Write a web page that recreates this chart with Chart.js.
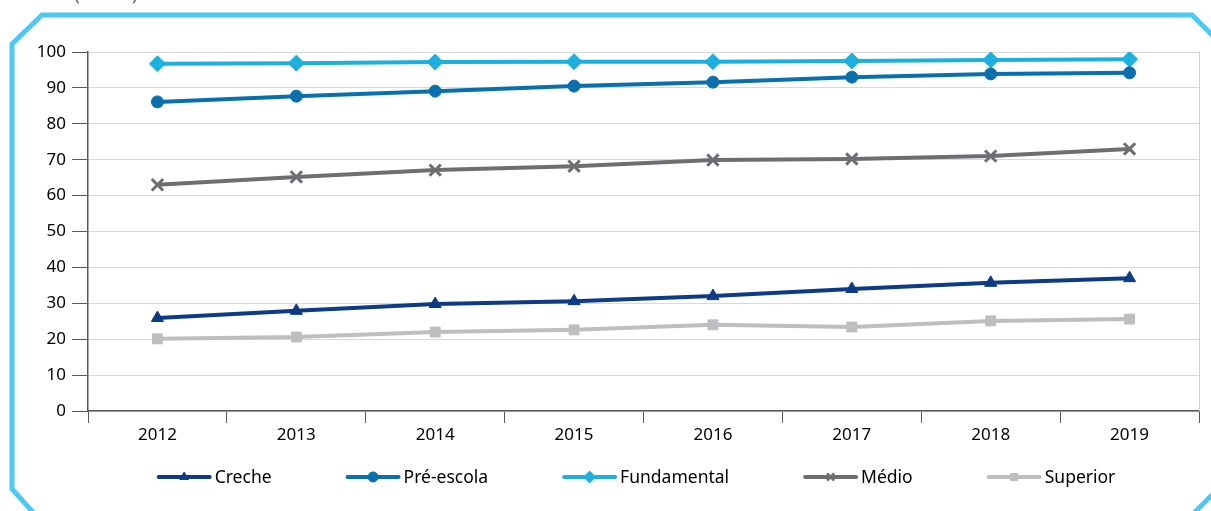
<!DOCTYPE html>
<html>
<head>
<meta charset="utf-8">
<script src="https://cdn.jsdelivr.net/npm/chart.js@4"></script>
<style>
  html, body { margin: 0; padding: 0; background: #fff; }
  #wrap { width: 1211px; height: 511px; }
</style>
</head>
<body>
<div id="wrap"><canvas id="grafico"></canvas></div>
<script>
// dados (em %)
const anos = ['2012', '2013', '2014', '2015', '2016', '2017', '2018', '2019'];
const creche = [25.9, 27.9, 29.8, 30.6, 32.0, 34.0, 35.7, 37.0];
const preEscola = [86.1, 87.7, 89.1, 90.5, 91.6, 93.0, 93.9, 94.2];
const fundamental = [96.7, 96.9, 97.2, 97.3, 97.3, 97.5, 97.8, 98.0];
const medio = [63.0, 65.2, 67.1, 68.2, 69.9, 70.2, 71.0, 73.0];
const superior = [20.1, 20.6, 22.0, 22.6, 24.0, 23.4, 25.1, 25.6];
const yTicks = [0, 10, 20, 30, 40, 50, 60, 70, 80, 90, 100];

const fonte = '"Noto Sans", "Open Sans", sans-serif';

function serie(label, data, cor, estilo, raio) {
    return {
        label: label,
        data: data,
        borderColor: cor,
        backgroundColor: cor,
        borderWidth: 4,
        pointStyle: estilo,
        pointRadius: raio,
        pointHoverRadius: raio,
        pointBorderWidth: estilo === 'crossRot' ? 3 : 1,
        tension: 0
    };
}

const datasets = [
    serie('Creche', creche, '#0d3b84', 'triangle', 7),
    serie('Pré-escola', preEscola, '#0a6fad', 'circle', 6),
    serie('Fundamental', fundamental, '#1cb0de', 'rectRot', 8),
    serie('Médio', medio, '#6d6e71', 'crossRot', 8),
    serie('Superior', superior, '#bcbec0', 'rect', 7)
];

// moldura ciano e título cortado
const moldura = {
    id: 'moldura',
    beforeDraw(chart) {
        const ctx = chart.ctx;
        ctx.save();
        ctx.strokeStyle = '#4cc9f2';
        ctx.lineWidth = 5;
        ctx.lineJoin = 'miter';
        ctx.beginPath();
        ctx.moveTo(40, 520);
        ctx.lineTo(12, 489);
        ctx.lineTo(12, 44);
        ctx.lineTo(42, 15);
        ctx.lineTo(1192, 15);
        ctx.lineTo(1240, 63);
        ctx.stroke();
        ctx.beginPath();
        ctx.moveTo(1194, 513);
        ctx.lineTo(1225, 482);
        ctx.stroke();
        ctx.fillStyle = '#6d6e71';
        ctx.font = '20px ' + fonte;
        ctx.textBaseline = 'alphabetic';
        ctx.fillText('(Em %)', 74, 0);
        ctx.restore();
    },
    afterDraw(chart) {
        const ctx = chart.ctx;
        const a = chart.chartArea;
        ctx.save();
        // borda direita
        ctx.strokeStyle = '#cfcfcf';
        ctx.lineWidth = 1;
        ctx.beginPath();
        ctx.moveTo(a.right + 0.5, a.top);
        ctx.lineTo(a.right + 0.5, a.bottom);
        ctx.stroke();

        // legenda com linha e marcador
        ctx.font = '17.5px ' + fonte;
        ctx.textBaseline = 'middle';
        const linha = 55, gap = 3, espaco = 74, y = 477;
        const larguras = chart.data.datasets.map(d => ctx.measureText(d.label).width);
        let total = 0;
        larguras.forEach((w, i) => { total += linha + gap + w + (i < larguras.length - 1 ? espaco : 0); });
        let x = 636 - total / 2;
        chart.data.datasets.forEach((d, i) => {
            ctx.strokeStyle = d.borderColor;
            ctx.fillStyle = d.borderColor;
            ctx.lineWidth = 4;
            ctx.lineCap = 'round';
            ctx.beginPath();
            ctx.moveTo(x + 2, y);
            ctx.lineTo(x + linha - 2, y);
            ctx.stroke();
            ctx.lineCap = 'butt';
            ctx.lineWidth = d.pointStyle === 'crossRot' ? 2.5 : 1;
            Chart.helpers.drawPoint(ctx, {
                pointStyle: d.pointStyle,
                radius: d.pointStyle === 'rectRot' ? 6 : 5,
                rotation: 0,
                borderWidth: ctx.lineWidth
            }, x + linha / 2, y);
            ctx.fillStyle = '#000';
            ctx.textAlign = 'left';
            ctx.fillText(d.label, x + linha + gap, y + 1);
            x += linha + gap + larguras[i] + espaco;
        });
        ctx.restore();
    }
};

new Chart(document.getElementById('grafico'), {
    type: 'line',
    data: { labels: anos, datasets: datasets },
    options: {
        responsive: true,
        maintainAspectRatio: false,
        animation: false,
        layout: { padding: { left: 0, top: 52, right: 12, bottom: 0 } },
        plugins: {
            legend: { display: false },
            tooltip: { enabled: false }
        },
        scales: {
            x: {
                offset: true,
                grid: {
                    offset: true,
                    drawOnChartArea: false,
                    drawTicks: true,
                    tickLength: 12,
                    tickColor: '#595959',
                    tickWidth: 1
                },
                border: { color: '#595959', width: 1.5 },
                ticks: { color: '#000', font: { family: fonte, size: 17 }, padding: 2 },
                afterFit(axis) { axis.height = 100; }
            },
            y: {
                min: 0,
                max: 100,
                afterBuildTicks(axis) { axis.ticks = yTicks.map(v => ({ value: v })); },
                grid: {
                    color: '#d9d9d9',
                    lineWidth: 1,
                    tickLength: 16,
                    tickColor: '#595959'
                },
                border: { color: '#595959', width: 1.5 },
                ticks: { color: '#000', font: { family: fonte, size: 17 }, padding: 6 },
                afterFit(axis) { axis.width = 88; }
            }
        }
    },
    plugins: [moldura]
});
</script>
</body>
</html>
